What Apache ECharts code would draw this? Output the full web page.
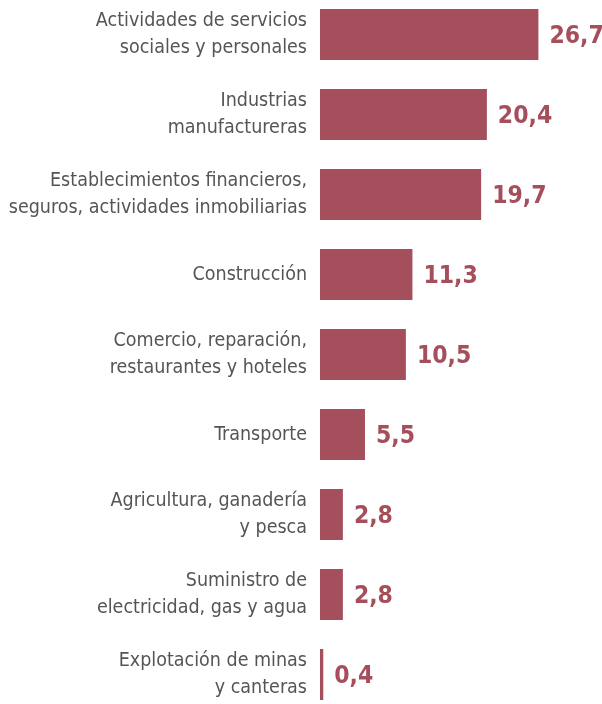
<!DOCTYPE html>
<html>
<head>
<meta charset="utf-8">
<script src="https://cdn.jsdelivr.net/npm/echarts@6/dist/echarts.min.js"></script>
<style>html,body{margin:0;padding:0;background:#fff}#c{width:602px;height:704px}</style>
</head>
<body>
<div id="c"></div>
<script>
const categories = [
  "Actividades de servicios\nsociales y personales",
  "Industrias\nmanufactureras",
  "Establecimientos financieros,\nseguros, actividades inmobiliarias",
  "Construcción",
  "Comercio, reparación,\nrestaurantes y hoteles",
  "Transporte",
  "Agricultura, ganadería\ny pesca",
  "Suministro de\nelectricidad, gas y agua",
  "Explotación de minas\ny canteras"
];
const values = [26.7, 20.4, 19.7, 11.3, 10.5, 5.5, 2.8, 2.8, 0.4];

const chart = echarts.init(document.getElementById('c'));
const FONT = '"Liberation Sans Narrow", "DejaVu Sans Condensed", Roboto, sans-serif';
chart.setOption({
  animation: false,
  grid: { left: 320, top: -5.5, width: 245.4, height: 720, containLabel: false, outerBoundsMode: 'none' },
  xAxis: { type: 'value', min: 0, max: 30, show: false },
  yAxis: {
    type: 'category', data: categories, inverse: true,
    axisLine: { show: false }, axisTick: { show: false }, splitLine: { show: false },
    axisLabel: {
      margin: 13, color: '#555555', fontSize: 19.5, lineHeight: 26.5,
      fontFamily: FONT, align: 'right'
    }
  },
  series: [{
    type: 'bar', data: values, barWidth: 51,
    itemStyle: { color: '#a64f5c' },
    label: {
      show: true, position: 'right', distance: 11, offset: [0, 2.5],
      color: '#a64f5c', fontSize: 24.5, fontWeight: 'bold', fontFamily: FONT,
      formatter: p => String(p.value.toFixed(1)).replace('.', ',')
    }
  }]
});
</script>
</body>
</html>
